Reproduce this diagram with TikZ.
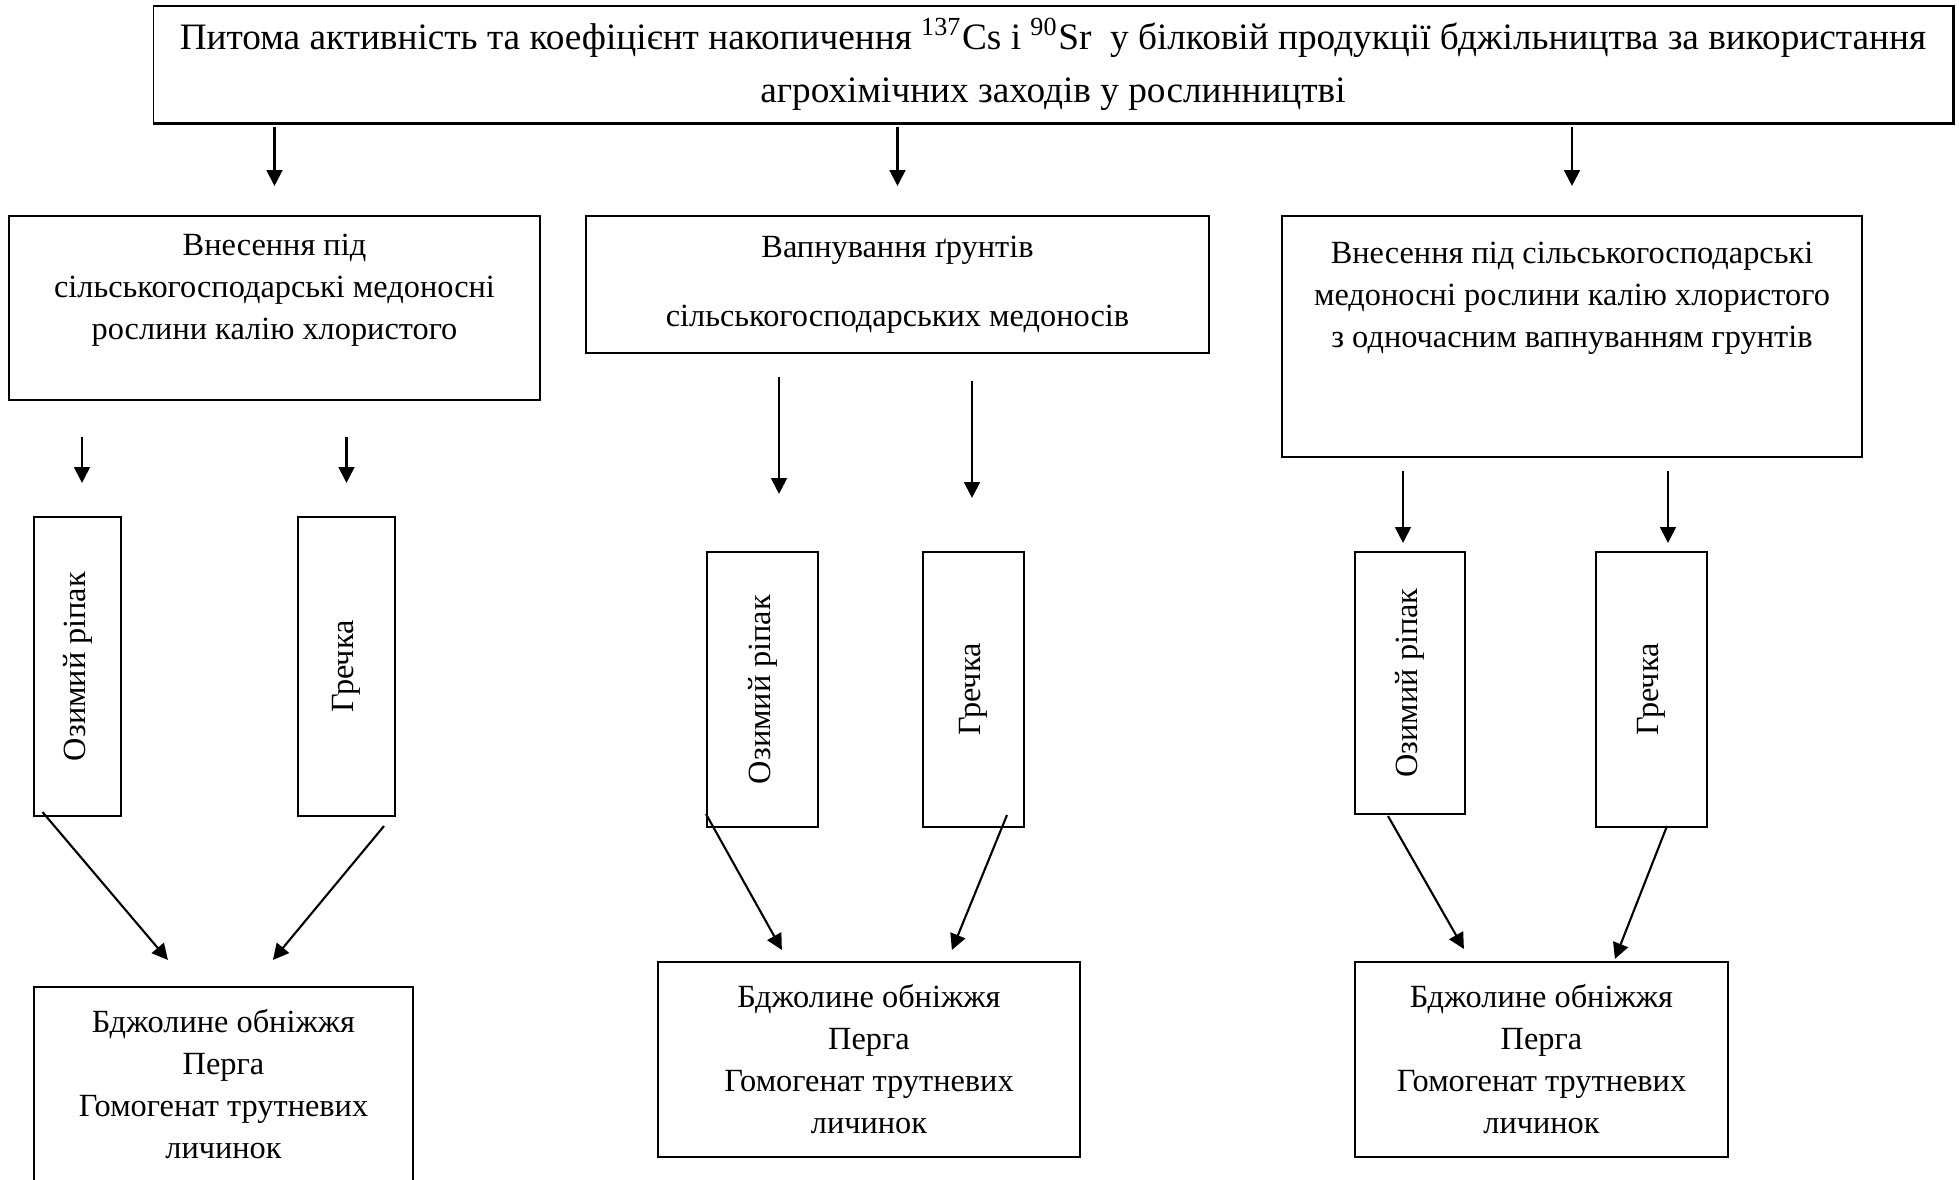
\documentclass[tikz,border=0pt]{standalone}
\usepackage{fontspec}
\setmainfont{Liberation Serif}
\usepackage{graphicx}
\usepackage{tikz}
\usetikzlibrary{calc,arrows.meta}
\tikzset{>={Triangle[length=4.5pt,width=4.5pt]}}
\tikzset{
  box/.style={draw, line width=.55pt, align=center, inner sep=0pt,
    font=\fontsize{9.2}{11.95}\selectfont},
  arr/.style={->, line width=.6pt},
}

\begin{document}
\begin{tikzpicture}[x=0.01cm, y=-0.01cm]
    \useasboundingbox (0,0) rectangle (1959,1180);
    % header
    \node[box, minimum width=17.98cm, minimum height=1.17cm,
      font=\fontsize{10.6}{15}\selectfont] (title) at (1053,64.5)
      {Питома активність та коефіцієнт накопичення \textsuperscript{137}Cs і \textsuperscript{90}Sr~ у білковій продукції бджільництва за використання\\
       агрохімічних заходів у рослинництві};
    \draw[line width=.8pt] (title.south west) -- (title.south east) -- (title.north east);
    % three ways of treatment
    \node[box, minimum width=5.31cm, minimum height=1.84cm] (l1) at (274.5,308)
      {Внесення під\\ сільськогосподарські медоносні\\ рослини калію хлористого\\ \mbox{}};
    \node[box, minimum width=6.23cm, minimum height=1.37cm] (m1) at (897.5,284.5)
      {Вапнування ґрунтів\\[0.27cm] сільськогосподарських медоносів};
    \node[box, minimum width=5.80cm, minimum height=2.41cm] (r1) at (1572,336.5)
      {Внесення під сільськогосподарські\\ медоносні рослини калію хлористого\\ з одночасним вапнуванням грунтів\\ \mbox{}\\ \mbox{}};
    % crops
    \node[box, minimum width=0.87cm, minimum height=2.99cm] (lrape) at (77.5,666.5) {\rotatebox{90}{Озимий ріпак}};
    \node[box, minimum width=0.97cm, minimum height=2.99cm] (lbuck) at (346.5,666.5) {\rotatebox{90}{Гречка}};
    \node[box, minimum width=1.11cm, minimum height=2.75cm] (mrape) at (762.5,689.5) {\rotatebox{90}{Озимий ріпак}};
    \node[box, minimum width=1.01cm, minimum height=2.75cm] (mbuck) at (973.5,689.5) {\rotatebox{90}{Гречка}};
    \node[box, minimum width=1.10cm, minimum height=2.62cm] (rrape) at (1410,683) {\rotatebox{90}{Озимий ріпак}};
    \node[box, minimum width=1.11cm, minimum height=2.75cm] (rbuck) at (1651.5,689.5) {\rotatebox{90}{Гречка}};
    % bee products
    \node[box, minimum width=3.79cm, minimum height=1.95cm] (lbot) at (223.5,1084.5)
      {Бджолине обніжжя\\ Перга\\ Гомогенат трутневих\\ личинок};
    \node[box, minimum width=4.22cm, minimum height=1.95cm] (mbot) at (869,1059.5)
      {Бджолине обніжжя\\ Перга\\ Гомогенат трутневих\\ личинок};
    \node[box, minimum width=3.73cm, minimum height=1.95cm] (rbot) at (1541.5,1059.5)
      {Бджолине обніжжя\\ Перга\\ Гомогенат трутневих\\ личинок};
    % arrows from the header
    \draw[arr] ($(title.south -| l1.north)+(0,3)$) -- ($(l1.north)+(0,-29)$);
    \draw[arr] ($(title.south -| m1.north)+(0,3)$) -- ($(m1.north)+(0,-29)$);
    \draw[arr] ($(title.south -| r1.north)+(0,3)$) -- ($(r1.north)+(0,-29)$);
    % arrows to the crops
    \draw[arr] ($(l1.south -| lrape.north)+(4.5,36)$) -- ($(lrape.north)+(4.5,-33)$);
    \draw[arr] ($(l1.south -| lbuck.north)+(0,36)$) -- ($(lbuck.north)+(0,-33)$);
    \draw[arr] ($(m1.south -| mrape.north)+(16.5,23)$) -- ($(mrape.north)+(16.5,-57)$);
    \draw[arr] ($(m1.south -| mbuck.north)+(-1.5,27)$) -- ($(mbuck.north)+(-1.5,-53)$);
    \draw[arr] ($(r1.south -| rrape.north)+(-7,13)$) -- ($(rrape.north)+(-7,-8)$);
    \draw[arr] ($(r1.south -| rbuck.north)+(16.5,13)$) -- ($(rbuck.north)+(16.5,-8)$);
    % arrows to the products
    \draw[arr] ($(lrape.south west)+(9.5,-5)$) -- ($(lbot.north west)+(135,-26)$);
    \draw[arr] ($(lbuck.south east)+(-12,9)$) -- ($(lbot.north west)+(240,-26)$);
    \draw[arr] ($(mrape.south west)+(0,-14)$) -- ($(mbot.north west)+(125,-11)$);
    \draw[arr] ($(mbuck.south east)+(-18,-13)$) -- ($(mbot.north west)+(295,-11)$);
    \draw[arr] ($(rrape.south west)+(34,1)$) -- ($(rbot.north west)+(110,-12)$);
    \draw[arr] ($(rbuck.south west)+(72,-2)$) -- ($(rbot.north west)+(261,-2)$);
\end{tikzpicture}
\end{document}
